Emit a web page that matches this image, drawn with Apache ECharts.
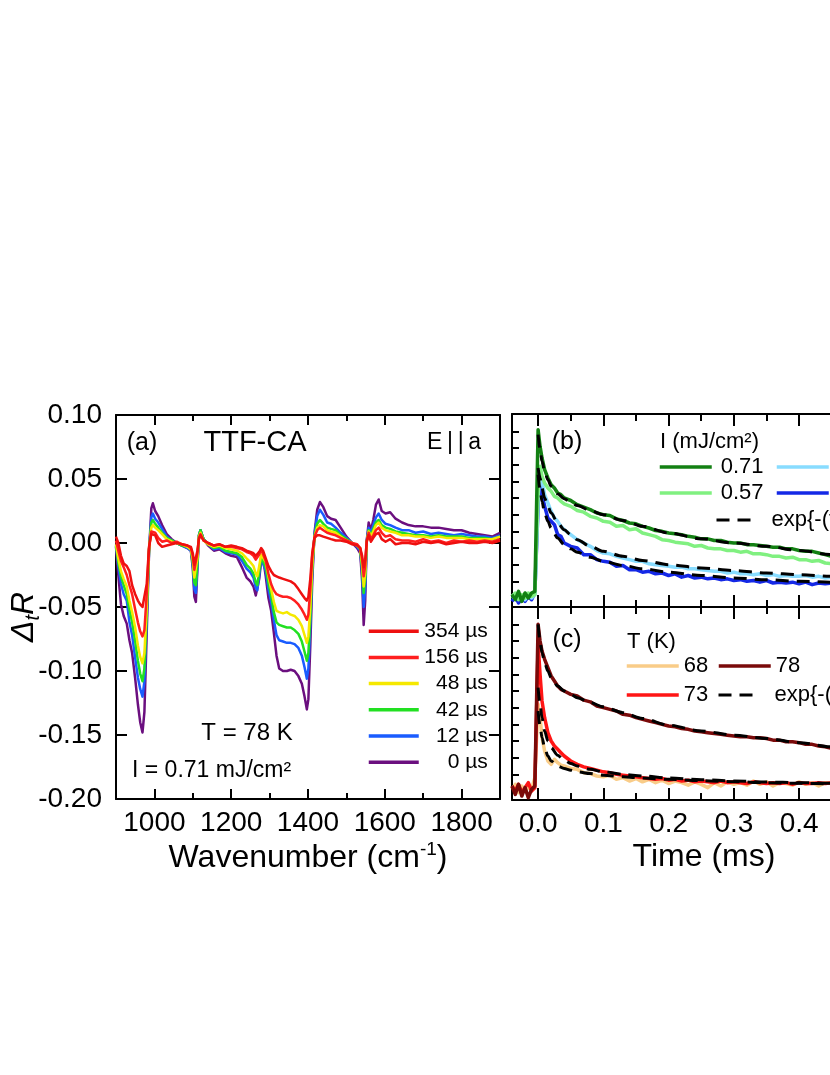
<!DOCTYPE html>
<html>
<head>
<meta charset="utf-8">
<script src="https://cdn.jsdelivr.net/npm/echarts@6/dist/echarts.min.js"></script>
<style>
html, body { margin: 0; padding: 0; background: #fff; }
#main { width: 830px; height: 1075px; }
</style>
</head>
<body>
<div id="main"></div>
<script>
// (a) spectra, wavenumber in cm-1, values are Delta_t R
var WN = [
    900, 906, 913, 920, 928, 935, 942, 950, 957, 963,
    969, 974, 980, 986, 992, 996, 1002, 1010, 1020, 1032,
    1045, 1058, 1072, 1086, 1095, 1100, 1104, 1108, 1112, 1116,
    1120, 1128, 1140, 1155, 1170, 1185, 1200, 1215, 1228, 1240,
    1250, 1258, 1264, 1268, 1273, 1278, 1283, 1290, 1297, 1304,
    1311, 1318, 1325, 1335, 1345, 1355, 1365, 1375, 1384, 1391,
    1397, 1401, 1406, 1411, 1417, 1424, 1431, 1440, 1450, 1460,
    1472, 1485, 1500, 1515, 1528, 1536, 1541, 1545, 1549, 1553,
    1558, 1564, 1570, 1577, 1584, 1592, 1602, 1614, 1628, 1645,
    1662, 1680, 1700, 1720, 1740, 1760, 1780, 1800, 1820, 1840,
    1860, 1880, 1900
];
var US0 = [
    -0.003, -0.025, -0.048, -0.057, -0.063, -0.076, -0.086, -0.106, -0.126, -0.140,
    -0.148, -0.132, -0.070, -0.008, 0.027, 0.031, 0.025, 0.021, 0.014, 0.007,
    0.003, 0.000, -0.002, -0.004, -0.006, -0.020, -0.042, -0.046, -0.020, 0.006,
    0.010, 0.003, -0.002, -0.006, -0.005, -0.008, -0.010, -0.011, -0.019, -0.027,
    -0.030, -0.034, -0.041, -0.042, -0.028, -0.014, -0.012, -0.026, -0.043, -0.053,
    -0.070, -0.088, -0.098, -0.100, -0.100, -0.099, -0.100, -0.104, -0.110, -0.120,
    -0.130, -0.122, -0.080, -0.030, 0.008, 0.026, 0.032, 0.028, 0.021, 0.019,
    0.018, 0.012, 0.005, 0.000, -0.004, -0.008, -0.030, -0.064, -0.045, 0.002,
    0.016, 0.010, 0.018, 0.030, 0.034, 0.025, 0.023, 0.024, 0.019, 0.016,
    0.014, 0.013, 0.013, 0.012, 0.012, 0.011, 0.010, 0.010, 0.008, 0.007,
    0.006, 0.005, 0.008
];
var US12 = [
    -0.002, -0.018, -0.032, -0.040, -0.045, -0.062, -0.072, -0.090, -0.105, -0.114,
    -0.120, -0.108, -0.060, -0.006, 0.020, 0.023, 0.019, 0.016, 0.011, 0.005,
    0.002, 0.000, -0.002, -0.004, -0.006, -0.017, -0.036, -0.039, -0.018, 0.006,
    0.010, 0.003, -0.001, -0.005, -0.004, -0.007, -0.008, -0.009, -0.014, -0.020,
    -0.023, -0.027, -0.035, -0.037, -0.025, -0.012, -0.011, -0.022, -0.036, -0.046,
    -0.060, -0.072, -0.076, -0.077, -0.078, -0.078, -0.079, -0.082, -0.088, -0.097,
    -0.106, -0.098, -0.065, -0.024, 0.007, 0.021, 0.026, 0.022, 0.016, 0.015,
    0.012, 0.008, 0.004, 0.000, -0.003, -0.006, -0.024, -0.050, -0.036, 0.002,
    0.012, 0.008, 0.014, 0.020, 0.023, 0.018, 0.015, 0.014, 0.012, 0.010,
    0.010, 0.008, 0.009, 0.007, 0.008, 0.007, 0.006, 0.007, 0.006, 0.005,
    0.005, 0.004, 0.006
];
var US42 = [
    -0.002, -0.015, -0.026, -0.033, -0.040, -0.052, -0.062, -0.077, -0.092, -0.102,
    -0.108, -0.098, -0.055, -0.006, 0.016, 0.018, 0.015, 0.012, 0.008, 0.004,
    0.002, 0.000, -0.002, -0.003, -0.005, -0.015, -0.031, -0.033, -0.015, 0.006,
    0.010, 0.003, -0.001, -0.004, -0.003, -0.006, -0.007, -0.008, -0.011, -0.017,
    -0.020, -0.024, -0.031, -0.033, -0.022, -0.011, -0.010, -0.019, -0.031, -0.041,
    -0.054, -0.062, -0.064, -0.065, -0.066, -0.066, -0.068, -0.071, -0.077, -0.085,
    -0.092, -0.086, -0.058, -0.020, 0.006, 0.015, 0.018, 0.015, 0.012, 0.011,
    0.010, 0.006, 0.003, 0.000, -0.002, -0.005, -0.020, -0.039, -0.028, 0.001,
    0.010, 0.006, 0.011, 0.016, 0.018, 0.014, 0.012, 0.011, 0.009, 0.008,
    0.007, 0.006, 0.006, 0.005, 0.006, 0.005, 0.005, 0.005, 0.004, 0.004,
    0.004, 0.003, 0.005
];
var US48 = [
    -0.001, -0.012, -0.022, -0.028, -0.034, -0.045, -0.054, -0.066, -0.080, -0.089,
    -0.094, -0.086, -0.050, -0.005, 0.012, 0.014, 0.012, 0.010, 0.007, 0.003,
    0.001, 0.000, -0.001, -0.003, -0.005, -0.013, -0.027, -0.028, -0.012, 0.005,
    0.008, 0.002, -0.001, -0.003, -0.002, -0.004, -0.005, -0.006, -0.008, -0.012,
    -0.015, -0.018, -0.024, -0.026, -0.018, -0.009, -0.008, -0.015, -0.026, -0.036,
    -0.046, -0.053, -0.054, -0.055, -0.054, -0.056, -0.057, -0.060, -0.065, -0.072,
    -0.078, -0.073, -0.050, -0.017, 0.005, 0.012, 0.014, 0.013, 0.010, 0.009,
    0.008, 0.005, 0.002, 0.000, -0.002, -0.004, -0.017, -0.034, -0.024, 0.001,
    0.009, 0.005, 0.009, 0.014, 0.016, 0.012, 0.010, 0.009, 0.008, 0.006,
    0.006, 0.005, 0.005, 0.004, 0.005, 0.004, 0.004, 0.004, 0.003, 0.003,
    0.003, 0.003, 0.005
];
var US156 = [
    0.002, -0.006, -0.014, -0.019, -0.025, -0.033, -0.040, -0.052, -0.062, -0.069,
    -0.073, -0.068, -0.040, -0.004, 0.009, 0.010, 0.008, 0.004, 0.001, 0.002,
    0.000, 0.001, -0.001, -0.002, -0.004, -0.010, -0.021, -0.022, -0.008, 0.004,
    0.007, 0.002, 0.000, -0.002, -0.001, -0.003, -0.003, -0.004, -0.005, -0.007,
    -0.008, -0.010, -0.013, -0.013, -0.009, -0.005, -0.006, -0.014, -0.024, -0.032,
    -0.037, -0.040, -0.041, -0.042, -0.042, -0.043, -0.045, -0.048, -0.052, -0.056,
    -0.060, -0.056, -0.036, -0.010, 0.005, 0.010, 0.012, 0.010, 0.008, 0.007,
    0.006, 0.004, 0.002, 0.000, -0.001, -0.004, -0.013, -0.026, -0.018, 0.002,
    0.008, 0.003, 0.006, 0.010, 0.012, 0.008, 0.005, 0.006, 0.003, 0.002,
    0.002, 0.001, 0.003, 0.001, 0.002, 0.000, 0.002, 0.001, 0.002, 0.001,
    0.002, 0.001, 0.003
];
var US354 = [
    0.005, 0.000, -0.010, -0.016, -0.018, -0.022, -0.033, -0.040, -0.045, -0.048,
    -0.050, -0.050, -0.032, -0.003, 0.007, 0.008, 0.006, 0.000, -0.003, -0.002,
    -0.001, 0.000, -0.001, -0.002, -0.003, -0.008, -0.017, -0.018, -0.006, 0.003,
    0.006, 0.002, 0.000, -0.002, -0.001, -0.003, -0.002, -0.003, -0.004, -0.006,
    -0.007, -0.008, -0.010, -0.010, -0.007, -0.004, -0.006, -0.012, -0.018, -0.022,
    -0.025, -0.026, -0.027, -0.028, -0.029, -0.030, -0.032, -0.036, -0.040, -0.043,
    -0.045, -0.042, -0.028, -0.008, 0.004, 0.006, 0.006, 0.005, 0.004, 0.003,
    0.002, 0.002, 0.001, -0.001, -0.002, -0.004, -0.010, -0.019, -0.013, 0.001,
    0.006, 0.001, 0.004, 0.007, 0.008, 0.003, 0.001, 0.003, -0.001, 0.000,
    0.000, -0.001, 0.001, 0.000, 0.001, -0.001, 0.000, 0.001, 0.000, 0.000,
    0.001, 0.000, 0.002
];

// (b), (c) transients, time in ms, unlabeled normalised scale
var T_DATA = [
    -0.04, -0.035, -0.03, -0.025, -0.02, -0.015, -0.01, -0.005, 0, 0.003,
    0.006, 0.01, 0.015, 0.02, 0.025, 0.03, 0.035, 0.04, 0.05, 0.06,
    0.07, 0.08, 0.09, 0.1, 0.11, 0.12, 0.13, 0.14, 0.15, 0.16,
    0.17, 0.18, 0.19, 0.2, 0.21, 0.22, 0.23, 0.24, 0.25, 0.26,
    0.27, 0.28, 0.29, 0.3, 0.31, 0.32, 0.33, 0.34, 0.35, 0.36,
    0.37, 0.38, 0.39, 0.4, 0.41, 0.42, 0.43, 0.44, 0.45, 0.46
];
var I071 = [
    0.2, -0.1, 0.4, -0.2, 0.3, 0.0, 0.3, 0.4, 10.1, 9.1,
    8.4, 7.7, 7.2, 6.8, 6.6, 6.3, 6.2, 6.0, 5.85, 5.6,
    5.45, 5.3, 5.1, 5.0, 4.95, 4.75, 4.65, 4.5, 4.45, 4.3,
    4.2, 4.05, 4.0, 3.9, 3.85, 3.8, 3.7, 3.65, 3.55, 3.55,
    3.45, 3.45, 3.35, 3.3, 3.3, 3.2, 3.2, 3.15, 3.1, 3.05,
    3.05, 2.95, 2.95, 2.85, 2.8, 2.8, 2.7, 2.6, 2.5, 2.45
];
var I057 = [
    0.1, 0.3, -0.1, 0.2, 0.0, 0.3, 0.1, 0.2, 6.4, 7.9,
    7.3, 6.9, 6.6, 6.4, 6.1, 6.0, 5.8, 5.65, 5.5, 5.25,
    5.15, 4.9, 4.8, 4.6, 4.55, 4.3, 4.35, 4.1, 4.15, 3.9,
    3.8, 3.7, 3.5, 3.45, 3.35, 3.3, 3.25, 3.1, 3.15, 3.0,
    2.95, 2.95, 2.85, 2.85, 2.75, 2.8, 2.65, 2.65, 2.6, 2.5,
    2.5, 2.4, 2.45, 2.3, 2.3, 2.2, 2.25, 2.1, 2.05, 2.0
];
var I043 = [
    0.1, 0.0, 0.2, 0.1, -0.1, 0.2, 0.0, 0.2, 6.0, 7.8,
    7.0, 6.2, 5.7, 5.2, 4.8, 4.6, 4.3, 4.1, 3.8, 3.5,
    3.3, 3.1, 2.85, 2.7, 2.65, 2.5, 2.4, 2.3, 2.2, 2.2,
    2.05, 2.0, 1.95, 1.9, 1.85, 1.85, 1.75, 1.75, 1.7, 1.65,
    1.6, 1.6, 1.5, 1.55, 1.45, 1.45, 1.4, 1.45, 1.35, 1.4,
    1.3, 1.35, 1.3, 1.3, 1.35, 1.25, 1.3, 1.2, 1.25, 1.2
];
var I028 = [
    -0.2, 0.1, -0.3, 0.0, -0.2, 0.1, -0.1, 0.3, 5.5, 7.5,
    6.3, 5.5, 4.8, 4.6, 4.4, 3.8, 3.7, 3.3, 3.1, 3.0,
    2.6, 2.6, 2.3, 2.2, 2.15, 1.9, 1.95, 1.7, 1.7, 1.55,
    1.6, 1.45, 1.5, 1.35, 1.45, 1.25, 1.35, 1.2, 1.25, 1.15,
    1.2, 1.1, 1.15, 1.05, 1.1, 1.0, 1.05, 0.95, 1.05, 0.9,
    0.95, 0.9, 0.95, 0.85, 0.95, 0.8, 0.9, 0.85, 0.9, 0.85
];
var K78 = [
    0.3, -0.2, 0.4, -0.3, 0.2, -0.4, 0.1, 0.3, 10.0, 9.0,
    8.4, 7.9, 7.4, 6.9, 6.6, 6.3, 6.1, 6.0, 5.8, 5.7,
    5.45, 5.35, 5.1, 5.0, 4.9, 4.8, 4.6, 4.55, 4.4, 4.3,
    4.2, 4.1, 4.0, 3.9, 3.85, 3.75, 3.7, 3.6, 3.55, 3.5,
    3.45, 3.4, 3.35, 3.3, 3.25, 3.25, 3.2, 3.2, 3.15, 3.05,
    3.05, 2.95, 2.95, 2.9, 2.8, 2.8, 2.7, 2.65, 2.55, 2.5
];
var K73 = [
    0.3, 0.0, 0.4, -0.1, 0.2, 0.5, 0.0, 0.2, 8.8, 7.0,
    5.4, 4.4, 3.5, 3.0, 2.7, 2.5, 2.3, 2.1, 1.8, 1.6,
    1.45, 1.35, 1.25, 1.15, 1.1, 1.0, 0.95, 0.9, 0.85, 0.8,
    0.75, 0.7, 0.75, 0.65, 0.7, 0.6, 0.65, 0.55, 0.6, 0.55,
    0.5, 0.6, 0.5, 0.55, 0.5, 0.45, 0.55, 0.5, 0.45, 0.5,
    0.45, 0.5, 0.4, 0.5, 0.45, 0.45, 0.5, 0.45, 0.5, 0.55
];
var K68 = [
    0.1, 0.4, -0.1, 0.3, 0.0, 0.2, 0.1, 0.8, 5.2, 4.4,
    3.2, 2.4, 1.8, 1.6, 1.9, 1.7, 1.55, 1.5, 1.35, 1.3,
    1.1, 1.05, 0.9, 0.85, 0.95, 0.7, 0.8, 0.6, 0.75, 0.55,
    0.7, 0.5, 0.65, 0.45, 0.6, 0.5, 0.35, 0.55, 0.4, 0.2,
    0.5, 0.3, 0.55, 0.4, 0.5, 0.35, 0.6, 0.4, 0.55, 0.3,
    0.5, 0.45, 0.35, 0.55, 0.4, 0.5, 0.3, 0.5, 0.45, 0.4
];

// stretched exponential fits
var FIT_T = [0, 0.003, 0.006, 0.01, 0.015, 0.02, 0.03, 0.04, 0.05, 0.06, 0.08, 0.1, 0.13, 0.16, 0.2, 0.25, 0.3, 0.35, 0.4, 0.45, 0.5];
var FIT_I071 = [9.8, 8.9, 8.2, 7.6, 7.1, 6.7, 6.25, 5.95, 5.75, 5.55, 5.25, 5.0, 4.65, 4.3, 3.9, 3.55, 3.3, 3.1, 2.85, 2.6, 2.4];
var FIT_I043 = [7.8, 7.2, 6.6, 6.0, 5.5, 5.1, 4.5, 4.1, 3.8, 3.5, 3.1, 2.8, 2.5, 2.25, 2.0, 1.8, 1.65, 1.5, 1.4, 1.3, 1.25];
var FIT_I028 = [7.4, 6.5, 5.8, 5.1, 4.6, 4.2, 3.6, 3.2, 2.95, 2.75, 2.45, 2.2, 1.95, 1.75, 1.55, 1.35, 1.2, 1.1, 1.0, 0.95, 0.9];
var FIT_K78 = [10.0, 9.0, 8.3, 7.7, 7.2, 6.8, 6.3, 6.0, 5.8, 5.6, 5.3, 5.05, 4.7, 4.35, 3.95, 3.6, 3.35, 3.15, 2.9, 2.65, 2.45];
var FIT_K73 = [6.2, 5.2, 4.4, 3.6, 3.0, 2.6, 2.15, 1.85, 1.65, 1.5, 1.3, 1.15, 1.0, 0.9, 0.78, 0.68, 0.6, 0.54, 0.5, 0.46, 0.43];
var FIT_K68 = [4.8, 3.9, 3.2, 2.6, 2.1, 1.8, 1.5, 1.35, 1.25, 1.15, 1.05, 0.95, 0.85, 0.78, 0.7, 0.62, 0.56, 0.5, 0.46, 0.43, 0.4];

// ticks
var WN_LABELS = [1000, 1200, 1400, 1600, 1800];
var WN_MINOR = [1100, 1300, 1500, 1700];
var DR_TICKS = [-0.2, -0.15, -0.1, -0.05, 0, 0.05, 0.1];
var T_LABELS = [0, 0.1, 0.2, 0.3, 0.4, 0.5];
var T_MINOR = [0.05, 0.15, 0.25, 0.35, 0.45];
var NORM_TICKS = [0, 1, 2, 3, 4, 5, 6, 7, 8, 9, 10];

var FIT = 'exp{-(t/τ)^β}';
var FONT = '"Liberation Sans", Arial, Helvetica, sans-serif';
var BLACK = '#000';

function pairs(xs, ys) {
    return xs.map(function (x, i) { return [x, ys[i]]; });
}

function axis(grid, pos, min, max, ticks, len, showLine, labels, fmt, margin) {
    var a = {
        type: 'value',
        gridIndex: grid,
        position: pos,
        min: min,
        max: max,
        axisLine: {show: showLine, onZero: false, lineStyle: {color: BLACK, width: 2}},
        axisTick: {show: true, inside: true, length: len, customValues: ticks, lineStyle: {color: BLACK, width: 2}},
        axisLabel: {show: false},
        splitLine: {show: false}
    };
    if (labels) {
        a.axisLabel = {
            show: true, customValues: labels, formatter: fmt, margin: margin,
            color: BLACK, fontSize: 28, fontFamily: FONT,
            showMinLabel: true, showMaxLabel: true
        };
    }
    return a;
}

function line(name, xs, ys, color, width, xi, yi, dashed) {
    return {
        name: name,
        type: 'line',
        xAxisIndex: xi,
        yAxisIndex: yi,
        data: pairs(xs, ys),
        symbol: 'none',
        showSymbol: false,
        smooth: dashed ? 0.3 : false,
        smoothMonotone: dashed ? 'x' : undefined,
        lineStyle: {color: color, width: width, type: dashed ? [13, 8] : 'solid', join: 'round', cap: 'butt'},
        itemStyle: {color: color},
        emphasis: {disabled: true}
    };
}

// one legend per entry so nothing wraps at the canvas edge
function leg(name, left, top, w, pad, lw) {
    return {
        data: [name], left: left, top: top, orient: 'horizontal', padding: 0,
        width: 300,
        itemWidth: w, itemHeight: 14, itemGap: 0, selectedMode: false,
        lineStyle: {width: lw},
        itemStyle: {opacity: 0},
        formatter: function (n) { return n === FIT ? 'exp{-(t/τ){s|β}}' : n; },
        textStyle: {
            fontSize: 22, fontFamily: FONT, color: BLACK, lineHeight: 26, padding: [0, 0, 0, pad],
            rich: {s: {fontSize: 14, fontFamily: FONT, color: BLACK, padding: [0, 0, 10, 0]}}
        }
    };
}

function label(text, x, y, size, align, extra) {
    var el = {
        type: 'text', x: x, y: y, silent: true,
        style: {text: text, fontSize: size, fontFamily: FONT, fill: BLACK, align: align || 'center', verticalAlign: 'middle'}
    };
    if (extra) {
        for (var k in extra) el.style[k] = extra[k];
    }
    return el;
}

var chart = echarts.init(document.getElementById('main'), null, {renderer: 'canvas'});

chart.setOption({
    animation: false,
    backgroundColor: '#fff',
    grid: [
        {left: 116, top: 415, width: 384, height: 384, outerBoundsMode: 'none'},
        {left: 512, top: 414, width: 385, height: 193, outerBoundsMode: 'none'},
        {left: 512, top: 607, width: 385, height: 193, outerBoundsMode: 'none'}
    ],
    xAxis: [
        axis(0, 'bottom', 900, 1900, WN_LABELS, 10, true, WN_LABELS, function (v) { return String(v); }, 10),
        axis(0, 'bottom', 900, 1900, WN_MINOR, 6, false),
        axis(0, 'top', 900, 1900, WN_LABELS, 10, true),
        axis(0, 'top', 900, 1900, WN_MINOR, 6, false),
        axis(1, 'bottom', -0.04, 0.55, T_LABELS, 12, true),
        axis(1, 'bottom', -0.04, 0.55, T_MINOR, 7, false),
        axis(1, 'top', -0.04, 0.55, T_LABELS, 12, true),
        axis(1, 'top', -0.04, 0.55, T_MINOR, 7, false),
        axis(2, 'bottom', -0.04, 0.55, T_LABELS, 12, true, T_LABELS, function (v) { return v.toFixed(1); }, 10),
        axis(2, 'bottom', -0.04, 0.55, T_MINOR, 7, false),
        axis(2, 'top', -0.04, 0.55, T_LABELS, 12, true),
        axis(2, 'top', -0.04, 0.55, T_MINOR, 7, false)
    ],
    yAxis: [
        axis(0, 'left', -0.2, 0.1, DR_TICKS, 11, true, DR_TICKS, function (v) { return v.toFixed(2); }, 14),
        axis(0, 'right', -0.2, 0.1, DR_TICKS, 11, true),
        axis(1, 'left', -0.54, 11.04, NORM_TICKS, 7, true),
        axis(2, 'left', -0.54, 11.04, NORM_TICKS, 7, true)
    ],
    legend: [
        {
            data: ['354 µs', '156 µs', '48 µs', '42 µs', '12 µs', '0 µs'],
            orient: 'vertical', left: 367, top: 620.7, padding: 0,
            itemWidth: 50, itemHeight: 14, itemGap: 5.2, selectedMode: false,
            lineStyle: {width: 3.5},
            itemStyle: {opacity: 0},
            formatter: function (n) { return '{r|' + n + '}'; },
            textStyle: {rich: {r: {width: 64, align: 'right', fontSize: 21, lineHeight: 24, fontFamily: FONT, color: BLACK}}}
        },
        leg('0.71', 658, 454, 52, 4, 3.5),
        leg('0.43', 775, 454, 52, 4, 3.5),
        leg('0.57', 658, 480, 52, 4, 3.5),
        leg('0.28', 775, 480, 52, 4, 3.5),
        leg(FIT, 715, 507, 38, 12, 3),
        leg('68', 625, 653, 52, 0, 3.5),
        leg('78', 717, 653, 52, 0, 3.5),
        leg('73', 625, 682, 52, 0, 3.5),
        leg(FIT, 717, 682, 36, 15, 3)
    ],
    series: [
        line('0 µs', WN, US0, '#6b0f7f', 2.5, 0, 0),
        line('12 µs', WN, US12, '#1a5cff', 2.5, 0, 0),
        line('42 µs', WN, US42, '#22e022', 2.5, 0, 0),
        line('48 µs', WN, US48, '#f5e800', 2.5, 0, 0),
        line('156 µs', WN, US156, '#ff1f1f', 2.5, 0, 0),
        line('354 µs', WN, US354, '#ee1010', 2.5, 0, 0),

        line('0.28', T_DATA, I028, '#1428e6', 3.5, 4, 2),
        line('0.43', T_DATA, I043, '#88dcff', 3.5, 4, 2),
        line('0.57', T_DATA, I057, '#80f080', 3.5, 4, 2),
        line('0.71', T_DATA, I071, '#138013', 3.5, 4, 2),
        line(FIT, FIT_T, FIT_I071, BLACK, 3, 4, 2, true),
        line(FIT, FIT_T, FIT_I043, BLACK, 3, 4, 2, true),
        line(FIT, FIT_T, FIT_I028, BLACK, 3, 4, 2, true),

        line('68', T_DATA, K68, '#f9cc88', 3.5, 8, 3),
        line('73', T_DATA, K73, '#ff1515', 3.5, 8, 3),
        line('78', T_DATA, K78, '#7a0a0a', 3.5, 8, 3),
        line(FIT, FIT_T, FIT_K78, BLACK, 3, 8, 3, true),
        line(FIT, FIT_T, FIT_K73, BLACK, 3, 8, 3, true),
        line(FIT, FIT_T, FIT_K68, BLACK, 3, 8, 3, true)
    ],
    graphic: [
        label('(a)', 142, 443, 25),
        label('TTF-CA', 255, 443, 29),
        label('E\u2009|\u2009|\u2009a', 481, 443, 23, 'right'),
        label('T = 78 K', 247, 733, 24),
        label('I = 0.71 mJ/cm²', 132, 771, 23, 'left'),
        label('(b)', 567, 442, 25),
        label('I (mJ/cm²)', 660, 442, 22, 'left'),
        label('(c)', 567, 640, 25),
        label('T (K)', 627, 642, 22, 'left'),
        label('{n|Wavenumber (cm}{s|-1}{n|)}', 308, 858, 32, 'center', {
            rich: {
                n: {fontSize: 32, fontFamily: FONT, fill: BLACK, lineHeight: 38},
                s: {fontSize: 19, fontFamily: FONT, fill: BLACK, padding: [0, 0, 16, 0]}
            }
        }),
        label('Time (ms)', 704, 857, 32),
        {
            type: 'text', x: 24, y: 617, rotation: Math.PI / 2, silent: true,
            style: {
                text: '{d|Δ}{s|t}{d|R}', align: 'center', verticalAlign: 'middle',
                rich: {
                    d: {fontSize: 32, fontStyle: 'italic', fontFamily: FONT, fill: BLACK, lineHeight: 38},
                    s: {fontSize: 20, fontStyle: 'italic', fontFamily: FONT, fill: BLACK, padding: [18, 0, 0, 0]}
                }
            }
        }
    ]
});
</script>
</body>
</html>
